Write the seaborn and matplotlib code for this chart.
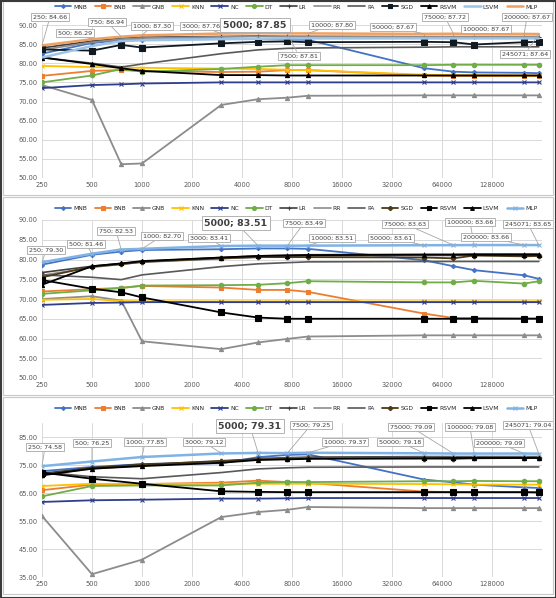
import numpy as np
import pandas as pd
import matplotlib
matplotlib.use("Agg")
import matplotlib.pyplot as plt
from matplotlib.patches import Rectangle
from matplotlib.ticker import FixedLocator, FixedFormatter, FormatStrFormatter
import seaborn as sns

# training set sizes (x) for the three panels
sizes_full = [250, 500, 750, 1000, 3000, 5000, 7500, 10000, 50000, 75000, 100000, 200000, 245071]
sizes_short = [250, 500, 1000, 3000, 5000, 7500, 10000, 50000, 75000, 100000, 200000, 245071]
x_ticks = [250, 500, 1000, 2000, 4000, 8000, 16000, 32000, 64000, 128000]

models = ["MNB", "BNB", "GNB", "KNN", "NC", "DT", "LR", "RR", "PA", "SGD", "RSVM", "LSVM", "MLP"]

# panel 1 accuracy values
acc_top = {
    "MNB": [82.5, 85.3, 86.0, 86.2, 86.3, 86.3, 86.2, 86.1, 78.7, 77.8, 77.6, 77.5, 77.4],
    "BNB": [76.7, 78.0, 78.2, 78.0, 77.7, 77.8, 78.2, 78.2, 76.8, 76.7, 76.7, 76.7, 76.7],
    "GNB": [74.3, 70.4, 53.6, 53.8, 69.1, 70.6, 71.0, 71.5, 71.6, 71.6, 71.6, 71.6, 71.6],
    "KNN": [79.3, 79.0, 78.9, 78.8, 78.6, 78.5, 78.3, 78.2, 77.0, 76.9, 76.9, 76.8, 76.8],
    "NC":  [73.5, 74.3, 74.5, 74.7, 75.0, 75.0, 75.0, 75.0, 75.0, 75.0, 75.0, 75.0, 75.0],
    "DT":  [75.0, 76.8, 78.5, 77.8, 78.5, 79.1, 79.5, 79.5, 79.5, 79.6, 79.6, 79.6, 79.6],
    "LR":  [84.0, 85.8, 86.5, 86.8, 87.0, 87.1, 87.0, 87.0, 86.9, 86.9, 86.9, 86.9, 86.9],
    "RR":  [83.5, 85.5, 86.3, 86.6, 86.9, 87.0, 87.0, 87.0, 87.0, 87.0, 87.0, 87.0, 87.0],
    "PA":  [81.5, 80.0, 79.0, 79.8, 82.5, 83.5, 83.9, 84.0, 84.2, 84.3, 84.3, 84.3, 84.3],
    "SGD": [83.6, 83.3, 84.8, 84.1, 85.2, 85.6, 85.7, 85.5, 85.6, 85.5, 84.9, 85.5, 85.6],
    "RSVM": [81.5, 79.8, 78.7, 78.0, 76.9, 76.9, 76.8, 76.8, 76.8, 76.8, 76.8, 76.8, 76.8],
    "LSVM": [81.5, 84.5, 85.8, 86.0, 86.3, 86.4, 86.5, 86.5, 86.5, 86.5, 86.5, 86.5, 86.5],
    "MLP": [84.66, 86.29, 86.94, 87.30, 87.76, 87.85, 87.81, 87.80, 87.67, 87.72, 87.67, 87.67, 87.64],
}

# panel 2 accuracy values
acc_mid = {
    "MNB": [78.7, 81.2, 82.0, 82.4, 82.6, 82.8, 82.8, 82.7, 79.8, 78.3, 77.3, 76.0, 75.1],
    "BNB": [71.9, 72.5, 72.8, 73.3, 72.9, 72.3, 72.3, 71.8, 66.3, 65.2, 65.2, 65.1, 65.1],
    "GNB": [70.0, 70.7, 69.6, 59.3, 57.3, 59.0, 59.9, 60.5, 60.8, 60.8, 60.8, 60.8, 60.8],
    "KNN": [69.8, 70.0, 69.5, 69.4, 69.4, 69.4, 69.4, 69.4, 69.4, 69.4, 69.4, 69.4, 69.4],
    "NC":  [68.5, 69.0, 69.1, 69.2, 69.2, 69.2, 69.2, 69.2, 69.2, 69.2, 69.2, 69.2, 69.2],
    "DT":  [71.3, 72.2, 72.8, 73.4, 73.5, 73.6, 74.0, 74.5, 74.2, 74.2, 74.6, 73.9, 74.5],
    "LR":  [76.7, 78.3, 79.0, 79.5, 80.5, 80.9, 81.1, 81.2, 81.3, 81.3, 81.4, 81.4, 81.4],
    "RR":  [76.0, 78.0, 78.8, 79.3, 80.2, 80.6, 80.8, 80.9, 81.0, 81.0, 81.1, 81.1, 81.1],
    "PA":  [76.1, 75.5, 74.9, 76.1, 78.2, 78.9, 79.2, 79.4, 79.5, 79.5, 79.5, 79.5, 79.5],
    "SGD": [75.5, 78.2, 78.8, 79.4, 80.3, 80.6, 80.6, 80.6, 80.5, 80.3, 81.0, 80.8, 80.9],
    "RSVM": [74.8, 72.6, 71.7, 70.4, 66.6, 65.3, 65.0, 65.0, 65.0, 65.0, 65.0, 65.0, 65.0],
    "LSVM": [73.6, 78.3, 79.0, 79.6, 80.5, 80.9, 81.0, 81.1, 81.2, 81.2, 81.2, 81.2, 81.2],
    "MLP": [79.30, 81.46, 82.53, 82.70, 83.41, 83.51, 83.49, 83.51, 83.61, 83.63, 83.66, 83.66, 83.65],
}

# panel 3 accuracy values (no 750 point)
acc_bot = {
    "MNB": [72.8, 74.3, 75.3, 75.6, 77.8, 78.6, 78.8, 69.8, 68.8, 68.0, 67.0, 66.8],
    "BNB": [66.0, 68.0, 68.2, 68.7, 69.4, 68.9, 68.6, 65.5, 65.3, 65.3, 65.3, 65.3],
    "GNB": [56.8, 36.0, 41.2, 56.4, 58.2, 59.0, 60.0, 59.6, 59.6, 59.6, 59.6, 59.6],
    "KNN": [67.5, 68.3, 68.2, 68.3, 68.3, 68.3, 68.3, 68.2, 68.1, 68.0, 68.0, 68.0],
    "NC":  [61.8, 62.4, 62.6, 63.0, 63.0, 63.1, 63.2, 63.2, 63.2, 63.2, 63.2, 63.2],
    "DT":  [63.8, 67.5, 67.7, 67.7, 68.7, 68.9, 68.9, 69.2, 69.2, 69.3, 69.2, 69.2],
    "LR":  [72.0, 74.0, 75.3, 76.3, 77.3, 77.6, 77.8, 78.0, 78.0, 78.0, 78.0, 78.0],
    "RR":  [71.5, 73.6, 74.8, 76.0, 77.0, 77.3, 77.5, 77.7, 77.7, 77.7, 77.7, 77.7],
    "PA":  [72.5, 70.8, 70.1, 72.3, 73.6, 74.0, 74.2, 74.3, 74.3, 74.3, 74.3, 74.3],
    "SGD": [71.5, 74.0, 75.0, 76.5, 77.0, 77.2, 77.4, 77.3, 77.2, 77.4, 77.5, 77.6],
    "RSVM": [72.3, 70.1, 68.3, 65.6, 65.4, 65.3, 65.3, 65.3, 65.3, 65.3, 65.3, 65.2],
    "LSVM": [71.3, 73.7, 74.6, 75.8, 76.8, 77.0, 77.2, 77.4, 77.5, 77.5, 77.5, 77.5],
    "MLP": [74.58, 76.25, 77.85, 79.12, 79.31, 79.25, 79.37, 79.18, 79.09, 79.08, 79.09, 79.04],
}

# styles: (color, marker, markersize, linewidth)
base_style = {
    "MNB": ("#4472C4", "D", 2.2, 1.3),
    "BNB": ("#ED7D31", "s", 3.0, 1.3),
    "GNB": ("#8C8C8C", "^", 3.0, 1.3),
    "KNN": ("#FFC000", "x", 3.0, 1.3),
    "NC": ("#2E3E8C", "x", 3.0, 1.3),
    "DT": ("#70AD47", "o", 3.2, 1.3),
    "LR": ("#404040", "+", 3.5, 1.2),
    "RR": ("#8C8C8C", None, 0, 1.2),
    "PA": ("#595959", None, 0, 1.2),
}
style_top = dict(base_style, **{
    "SGD": ("#101820", "s", 3.8, 1.3),
    "RSVM": ("#000000", "^", 3.0, 1.3),
    "LSVM": ("#9DC3E6", None, 0, 1.8),
    "MLP": ("#F0A060", None, 0, 1.8),
})
style_low = dict(base_style, **{
    "SGD": ("#4A3A18", "P", 3.2, 1.3),
    "RSVM": ("#000000", "s", 3.8, 1.3),
    "LSVM": ("#000000", "^", 3.0, 1.3),
    "MLP": ("#7FB2E5", "x", 3.0, 1.8),
})

# label box centres in figure pixels (from top-left)
labels_top = [(50, 17), (75, 33), (107, 22), (152, 26), (201, 26), (255, 25), (299, 56),
              (332, 25), (393, 27), (445, 17), (486, 29), (527, 17), (525, 54)]
labels_mid = [(46, 250), (86, 244), (116, 231), (162, 236), (209, 238), (236, 223), (304, 223),
              (332, 238), (391, 238), (405, 224), (470, 222), (486, 237), (528, 224)]
labels_bot = [(45, 447), (92, 443), (145, 442), (204, 442), (250, 426), (311, 425),
              (345, 442), (400, 442), (411, 427), (470, 427), (499, 443), (528, 425)]

W, H = 556, 598
sns.set_style("white")
plt.rcParams['font.family'] = ['DejaVu Sans']
fig = plt.figure(figsize=(W / 100, H / 100), dpi=100)

panels = [
    # sizes, values, styles, labels, ylim, yticks, axes box (left, top, right, bottom) px, legend y px
    (sizes_full, acc_top, style_top, labels_top, (50, 90), np.arange(50, 91, 5), (42, 25, 542, 178), 7),
    (sizes_full, acc_mid, style_low, labels_mid, (50, 90), np.arange(50, 91, 5), (42, 220, 542, 378), 208),
    (sizes_short, acc_bot, style_low, labels_bot, (35, 90), np.arange(35, 86, 10), (42, 423, 542, 577), 408),
]

for sizes, acc, styles, lab_pos, ylim, yticks, box, leg_y in panels:
    l, t, r, b = box
    ax = fig.add_axes([l / W, 1 - b / H, (r - l) / W, (b - t) / H])
    handles = []
    for name in models:
        color, marker, ms, lw = styles[name]
        df = pd.DataFrame({"size": sizes, "acc": acc[name]})
        sns.lineplot(data=df, x="size", y="acc", ax=ax, color=color, lw=lw,
                     marker=marker if marker else None, markersize=ms,
                     markeredgecolor=color, markeredgewidth=0.8, legend=False)
        handles.append(ax.lines[-1])

    ax.set_xscale("log", base=2)
    ax.set_xlim(250, 256000)
    ax.set_ylim(*ylim)
    ax.xaxis.set_major_locator(FixedLocator(x_ticks))
    ax.xaxis.set_major_formatter(FixedFormatter([str(v) for v in x_ticks]))
    ax.xaxis.set_minor_locator(FixedLocator([]))
    ax.set_yticks(yticks)
    ax.yaxis.set_major_formatter(FormatStrFormatter("%.2f"))
    ax.tick_params(labelsize=4.8, colors="#595959", length=0, pad=3)
    ax.grid(True, color="#D9D9D9", lw=0.7)
    ax.set_axisbelow(True)
    for s in ax.spines.values():
        s.set_visible(False)
    ax.set_xlabel("")
    ax.set_ylabel("")

    ax.legend(handles, models, loc="center", bbox_to_anchor=(296 / W, 1 - leg_y / H),
              bbox_transform=fig.transFigure, ncol=13, fontsize=4.3, frameon=False,
              handlelength=2.8, handletextpad=0.3, columnspacing=1.25, markerscale=0.9)

    mlp = acc["MLP"]
    for i, (xv, yv) in enumerate(zip(sizes, mlp)):
        px, py = lab_pos[i]
        bold = xv == 5000
        ax.annotate(f"{xv}; {yv:.2f}", xy=(xv, yv), xycoords="data",
                    xytext=(px, H - py), textcoords="figure pixels",
                    ha="center", va="center", fontsize=6.8 if bold else 4.6,
                    fontweight="bold" if bold else "normal", color="#404040",
                    bbox=dict(boxstyle="square,pad=0.3", fc="white", ec="#A6A6A6", lw=0.6),
                    arrowprops=dict(arrowstyle="-", color="#A6A6A6", lw=0.6,
                                    shrinkA=0, shrinkB=0),
                    annotation_clip=False)

# panel frames
for y0, y1 in [(1, 195), (197, 395), (397, 594)]:
    fig.add_artist(Rectangle((3 / W, 1 - y1 / H), (W - 6) / W, (y1 - y0) / H,
                             transform=fig.transFigure, fill=False, ec="#C8C8C8", lw=0.8))
fig.add_artist(Rectangle((0.5 / W, 0.5 / H), (W - 1) / W, (H - 1) / H,
                         transform=fig.transFigure, fill=False, ec="#3A3A3A", lw=1.5))

fig.savefig("out.png", dpi=100)
